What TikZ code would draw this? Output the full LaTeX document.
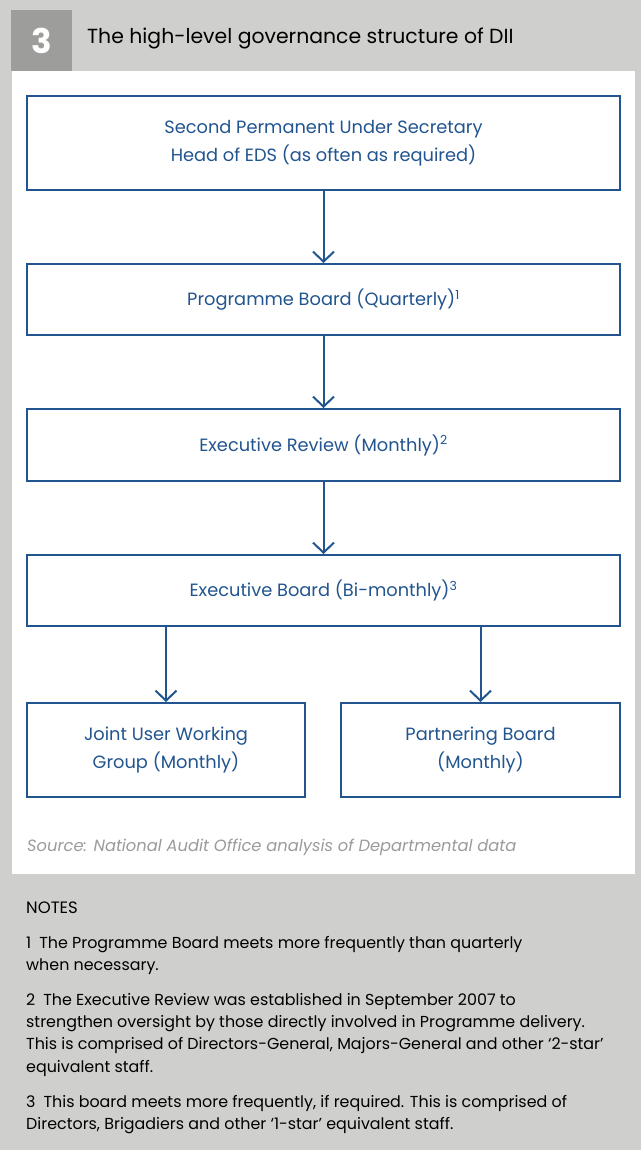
\documentclass[tikz,border=0pt]{standalone}
\usepackage{fontspec}
\setmainfont{Poppins}
\usetikzlibrary{arrows.meta}
\definecolor{naoblue}{HTML}{22558F}
\definecolor{panelgrey}{HTML}{CFCFCD}
\definecolor{numgrey}{HTML}{9D9D9B}
\definecolor{srcgrey}{HTML}{9B9B9B}
\tikzset{
  board/.style={draw=naoblue, line width=2pt, text=naoblue, align=center,
    inner sep=0pt, font=\fontsize{17.8}{28}\selectfont},
  flow/.style={draw=naoblue, line width=2pt,
    -{Straight Barb[length=10pt,width=21pt]}},
  note/.style={anchor=north west, align=left, inner sep=0pt,
    font=\fontsize{15.9}{22.3}\selectfont}
}

\begin{document}
\begin{tikzpicture}[x=1pt,y=-1pt]
  \fill[panelgrey] (0,0) rectangle (641,1150);
  \useasboundingbox (0,0) rectangle (641,1150);
  \fill[white] (12,71) rectangle (635,874);
  \fill[numgrey] (11,10) rectangle (72,71);
  \node[text=white, font=\fontsize{34}{34}\bfseries\selectfont] (num) at (41.5,41) {3};
  \node[anchor=west, inner sep=0pt, font=\fontsize{20.4}{24}\selectfont] (title) at (87,38)
    {The high-level governance structure of DII};

  % boards
  \node[board, minimum width=593pt, minimum height=94pt] (pus) at (323.5,143)
    {Second Permanent Under Secretary\\Head of EDS (as often as required)};
  \node[board, minimum width=593pt, minimum height=71pt] (prog) at (323.5,299.5)
    {Programme Board (Quarterly)\textsuperscript{1}};
  \node[board, minimum width=593pt, minimum height=72pt] (exr) at (323.5,445)
    {Executive Review (Monthly)\textsuperscript{2}};
  \node[board, minimum width=593pt, minimum height=71pt] (exb) at (323.5,590.5)
    {Executive Board (Bi-monthly)\textsuperscript{3}};
  \node[board, minimum width=278pt, minimum height=94pt] (jug) at (166,750)
    {Joint User Working\\Group (Monthly)};
  \node[board, minimum width=279pt, minimum height=94pt] (pb) at (480.5,750)
    {Partnering Board\\(Monthly)};

  \draw[flow] (pus) -- (prog);
  \draw[flow] (prog) -- (exr);
  \draw[flow] (exr) -- (exb);
  \draw[flow] (exb.south -| jug.north) -- (jug.north);
  \draw[flow] (exb.south -| pb.north) -- (pb.north);

  \node[anchor=base west, inner sep=0pt, text=srcgrey,
    font=\fontsize{16.3}{18}\itshape\selectfont] (src) at (27,851)
    {Source: National Audit Office analysis of Departmental data};

  % notes
  \node[anchor=base west, inner sep=0pt, font=\fontsize{16.5}{18}\selectfont] (notes) at (26,913) {NOTES};
  \node[note] (n1) at (26,936)
    {1\hspace{8pt}The Programme Board meets more frequently than quarterly\\
     when necessary.};
  \node[note] (n2) at (26,993)
    {2\hspace{8pt}The Executive Review was established in September 2007 to\\
     strengthen oversight by those directly involved in Programme delivery.\\
     This is comprised of Directors-General, Majors-General and other `2-star'\\
     equivalent staff.};
  \node[note] (n3) at (26,1095)
    {3\hspace{8pt}This board meets more frequently, if required. This is comprised of\\
     Directors, Brigadiers and other `1-star' equivalent staff.};
\end{tikzpicture}
\end{document}
